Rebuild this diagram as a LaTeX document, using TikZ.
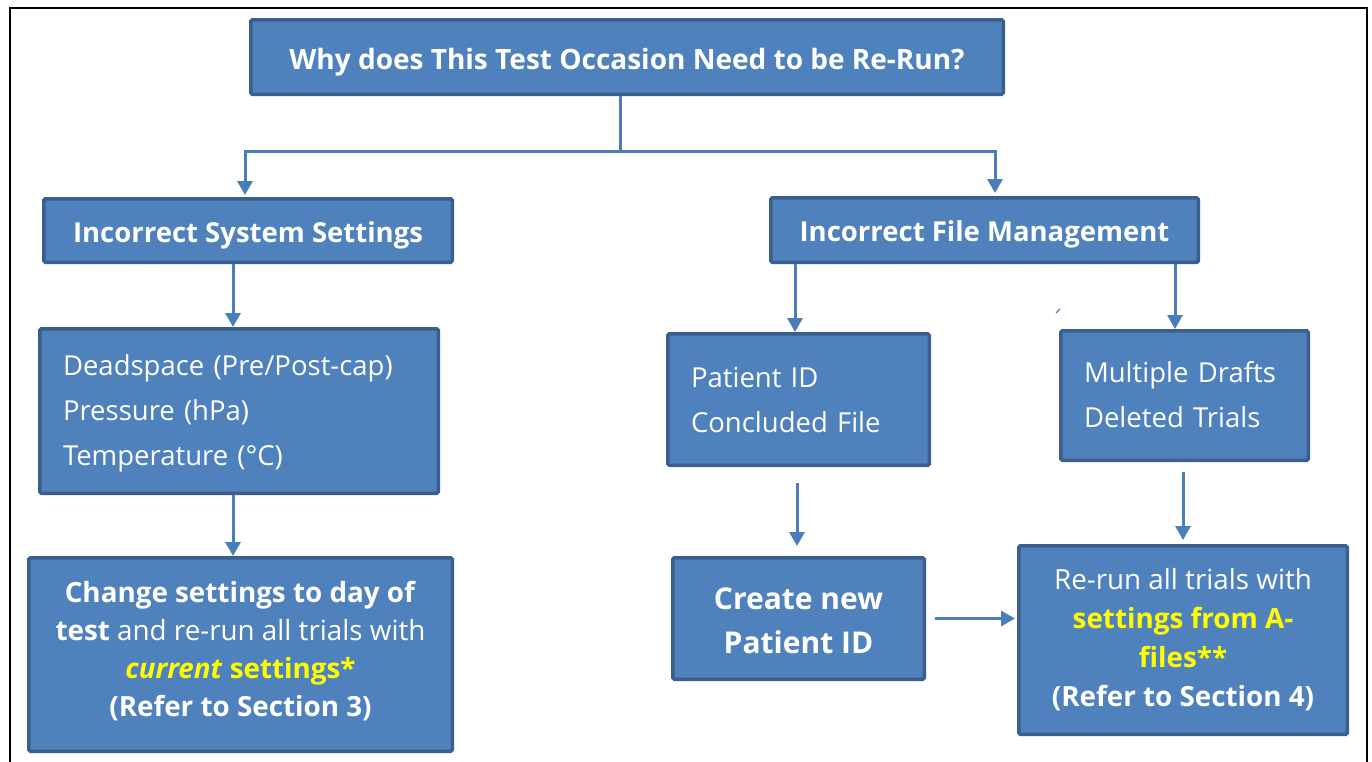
\documentclass[tikz,border=0pt]{standalone}
\usepackage{fontspec}
\setmainfont{Open Sans}
\usetikzlibrary{arrows.meta}
\definecolor{boxfill}{HTML}{4F81BD}
\definecolor{boxline}{HTML}{3A5F8C}
\definecolor{arrowblue}{HTML}{4A7EBB}
\definecolor{hiyellow}{HTML}{FFFF00}
\newcommand\topstrut[1]{\rule{0pt}{#1pt}}
\newcommand\botstrut[1]{\rule[-#1pt]{0pt}{0pt}}
\tikzset{
  box/.style={draw=boxline, fill=boxfill, line width=3.5pt, rounded corners=1.5pt,
    text=white, align=center, inner sep=0pt},
  ln/.style={draw=arrowblue, line width=3pt},
  arr/.style={ln, -{Triangle[width=15pt,length=14pt]}},
  hdr/.style={font=\fontsize{27.5}{33}\selectfont\bfseries},
  lst/.style={font=\fontsize{27.5}{45}\selectfont, align=left},
}
\begin{document}
\begin{tikzpicture}[x=1pt,y=-1pt]
\useasboundingbox (0,0) rectangle (1372,761);
\fill[white] (0,0) rectangle (1372,761);
% frame
\draw[black, line width=2pt] (10,763) -- (10,8) -- (1367,8) -- (1367,763);

% boxes
\node[box, minimum width=752.5pt, minimum height=74.5pt,
      font=\fontsize{28}{34}\selectfont\bfseries] (T) at (627,57)
  {\topstrut{32}\botstrut{8}Why does This Test Occasion Need to be Re-Run?};
\node[box, hdr, minimum width=408.5pt, minimum height=63.5pt] (IS) at (248,230.5)
  {\topstrut{31}\botstrut{8}Incorrect System Settings};
\node[box, hdr, minimum width=427.5pt, minimum height=64.5pt] (IF) at (984.5,230)
  {\topstrut{31}\botstrut{8}Incorrect File Management};
\node[box, lst, minimum width=398.5pt, minimum height=164.5pt, text width=352pt] (D) at (239,411)
  {\topstrut{26}Deadspace (Pre/Post-cap)\\Pressure (hPa)\\Temperature (°C)\botstrut{8}};
\node[box, minimum width=423.5pt, minimum height=193.5pt,
      font=\fontsize{27.8}{38}\selectfont] (C) at (240.5,654.5)
  {\topstrut{22}\textbf{Change settings to day of}\\\textbf{test} and re-run all trials with\\
   \textcolor{hiyellow}{\textbf{\textit{current} settings*}}\\\textbf{(Refer to Section 3)}\botstrut{13}};
\node[box, lst, minimum width=261.5pt, minimum height=131.5pt, text width=215pt] (P) at (798.5,399.5)
  {\topstrut{28}Patient ID\\Concluded File\botstrut{8}};
\node[box, lst, minimum width=247.5pt, minimum height=129.5pt, text width=201pt] (M) at (1184.5,395.5)
  {\topstrut{26}Multiple Drafts\\Deleted Trials\botstrut{8}};
\node[box, minimum width=251.5pt, minimum height=121.5pt,
      font=\fontsize{30}{44}\selectfont\bfseries] (N) at (798.5,618.5)
  {\topstrut{33}Create new\\Patient ID\botstrut{8}};
\node[box, minimum width=328.5pt, minimum height=188.5pt,
      font=\fontsize{27.8}{39}\selectfont] (R) at (1183,640)
  {\topstrut{23}Re-run all trials with\\\textcolor{hiyellow}{\textbf{settings from A-}}\\
   \textcolor{hiyellow}{\textbf{files**}}\\\textbf{(Refer to Section 4)}\botstrut{8}};

% connectors
\coordinate (j) at (620,151);
\draw[ln] (T.south -| j) -- (j);
\draw[arr, shorten >=2pt] (j) -| ([xshift=-3pt]IS.north);
\draw[arr, shorten >=3pt] (j) -| ([xshift=10.5pt]IF.north);
\draw[arr] ([xshift=-15pt]IS.south) -- ([xshift=-6pt]D.north);
\draw[arr] ([xshift=-6pt]D.south) -- ([xshift=-7.5pt]C.north);
\draw[arr] ([xshift=-189.5pt]IF.south) -- ([xshift=-3.5pt]P.north);
\draw[arr] ([xshift=190.5pt]IF.south) -- ([xshift=-9.5pt]M.north);
\draw[arr, shorten <=16pt, shorten >=10pt] ([xshift=-1.5pt]P.south) -- ([xshift=-1.5pt]N.north);
\draw[arr, shorten <=10pt, shorten >=4pt] ([xshift=-1.5pt]M.south) -- (R.north);
\draw[arr, shorten <=9pt, shorten >=2pt] (N.east) -- (R.west |- N.east);
% stray mark
\draw[arrowblue, line width=1.3pt] (1056,313) -- (1060,309);
\end{tikzpicture}
\end{document}
